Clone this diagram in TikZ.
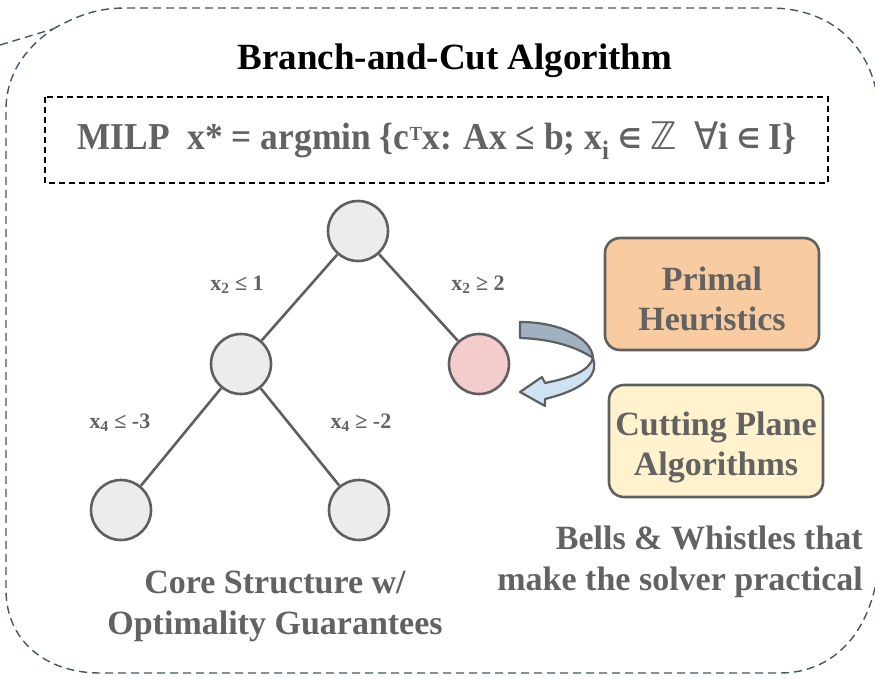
\documentclass[tikz,border=0pt]{standalone}
\usepackage{graphicx}
\usepackage{fontspec}
\setmainfont{Liberation Serif}
\newfontfamily\symfont{DejaVu Sans}
\definecolor{txtgray}{RGB}{98,98,98}
\definecolor{strk}{RGB}{95,95,95}
\definecolor{slate}{RGB}{68,84,106}
\definecolor{nodefill}{RGB}{236,236,236}
\definecolor{pinkfill}{RGB}{244,204,204}
\definecolor{orangefill}{RGB}{248,203,160}
\definecolor{yellowfill}{RGB}{255,242,204}
\definecolor{arrowdark}{RGB}{160,177,193}
\definecolor{arrowlight}{RGB}{207,226,243}
\newcommand{\elem}{\raisebox{1pt}{\scalebox{0.72}{\symfont ∈}}}
\tikzset{
  treenode/.style={circle, draw=strk, line width=2.6pt, fill=nodefill, minimum size=60pt, inner sep=0pt},
  treeedge/.style={draw=strk, line width=2.6pt},
  elabel/.style={text=txtgray, font=\fontsize{22}{24}\selectfont\bfseries, inner sep=0pt},
  sidebox/.style={draw=strk, line width=2.6pt, rounded corners=15pt, minimum width=214pt, minimum height=112pt},
  boxtext/.style={align=center, text=txtgray, font=\fontsize{34}{40}\selectfont\bfseries, inner sep=0pt},
  caption/.style={text=txtgray, font=\fontsize{34}{41}\selectfont\bfseries, inner sep=0pt},
}
\begin{document}
\begin{tikzpicture}[x=1pt,y=-1pt]
\useasboundingbox (0,0) rectangle (875,679);
% outer callout outline
\draw[slate, line width=1.4pt, dash pattern=on 8pt off 5pt]
  (0,45) -- (53,29)
  (53,29) .. controls (75,17) and (95,8) .. (125,8) -- (770,8)
  .. controls (830,8) and (874,45) .. (879,110) -- (879,560)
  .. controls (874,630) and (835,673) .. (780,673) -- (100,673)
  .. controls (45,673) and (6,640) .. (6,590) -- (6,110)
  .. controls (6,70) and (30,45) .. (53,29);
% title
\node[font=\fontsize{37}{40}\selectfont\bfseries, inner sep=0pt] (title) at (455,61) {Branch-and-Cut Algorithm};
% MILP box
\draw[black, line width=1.3pt, dash pattern=on 6pt off 4pt] (45,97) rectangle (828,183);
\node[text=txtgray, inner sep=0pt] (milp) at (437,141) {\resizebox{719pt}{\height}{\fontsize{38}{40}\selectfont\bfseries MILP\ \ x* = argmin \{c\textsuperscript{\fontsize{20}{20}\selectfont T}x: Ax ≤ b; x\textsubscript{i} \elem{} {\symfont\mdseries ℤ}\ \ {\symfont\mdseries ∀}i \elem{} I\}}};
% tree
\node[treenode] (root) at (358,231) {};
\node[treenode] (mid) at (241,364) {};
\node[treenode, fill=pinkfill] (pink) at (479,364) {};
\node[treenode] (ll) at (121,510) {};
\node[treenode] (lr) at (359,510) {};
\draw[treeedge] (root) -- (mid);
\draw[treeedge] (root) -- (pink);
\draw[treeedge] (mid) -- (ll);
\draw[treeedge] (mid) -- (lr);
\node[elabel] (e1) at (237,285) {x\textsubscript{2} ≤ 1};
\node[elabel] (e2) at (478,285) {x\textsubscript{2} ≥ 2};
\node[elabel] (e3) at (120,423) {x\textsubscript{4} ≤ -3};
\node[elabel] (e4) at (361,423) {x\textsubscript{4} ≥ -2};
% curved arrow
\draw[strk, line width=2.2pt, line join=round, fill=arrowdark]
  (520,322) .. controls (560,322) and (592,338) .. (593,358)
  .. controls (575,346) and (550,339) .. (520,338) -- cycle;
\draw[strk, line width=2.2pt, line join=round, fill=arrowlight]
  (593,358) .. controls (598,372) and (590,388) .. (545,399)
  -- (545,406) -- (520,392) -- (542,377) -- (545,383)
  .. controls (575,377) and (589,370) .. (593,358) -- cycle;
% side boxes
\node[sidebox, fill=orangefill] (ph) at (712,294) {};
\node[boxtext] (pht) at (712,299) {Primal\\Heuristics};
\node[sidebox, fill=yellowfill] (cp) at (716,441) {};
\node[boxtext] (cpt) at (716,447) {Cutting Plane\\Algorithms};
% captions
\node[caption, align=right, anchor=north east] (bw) at (863,526) {Bells \& Whistles that\\make the solver practical};
\node[caption, align=center, anchor=north] (cs) at (275,571) {Core Structure w/\\Optimality Guarantees};
\end{tikzpicture}
\end{document}
